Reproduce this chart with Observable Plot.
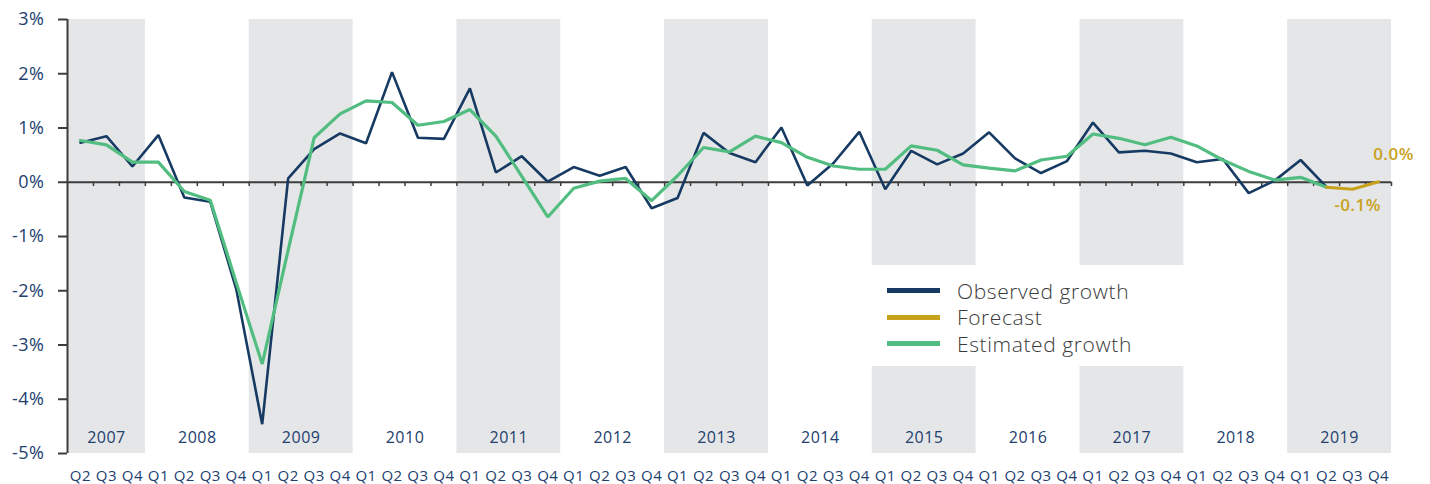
<!DOCTYPE html>
<html><head><meta charset="utf-8">
<script src="https://cdn.jsdelivr.net/npm/d3@7"></script>
<script src="https://cdn.jsdelivr.net/npm/@observablehq/plot@0.6"></script>
<style>
body{margin:0;background:#fff;}
#wrap{position:relative;width:1430px;height:484px;overflow:hidden;}
#legend{position:absolute;left:862px;top:265px;width:338px;height:101px;background:#fff;font-family:"Open Sans",sans-serif;font-weight:300;font-size:21px;letter-spacing:0.6px;color:#3a3a3a;}
.item{position:absolute;left:25px;display:flex;align-items:center;height:26px;white-space:nowrap;}
.sw{width:53px;height:5px;margin-right:17px;}
</style></head><body>
<div id="wrap"><div id="chart"></div><div id="legend"></div></div>
<script>
// ---- data ----
const years = [2007, 2008, 2009, 2010, 2011, 2012, 2013, 2014, 2015, 2016, 2017, 2018, 2019];
const quarterNames = ["Q1", "Q2", "Q3", "Q4"];
const firstQuarterIndex = 1; // series starts at 2007 Q2
const seriesNames = ["Observed growth", "Forecast", "Estimated growth"];
const seriesColors = ["#173a63", "#c8a21b", "#52bd80"];
const yTicks = [-5, -4, -3, -2, -1, 0, 1, 2, 3];
// quarterly growth, % (2007 Q2 .. 2019 Q2)
const observed = [0.73, 0.85, 0.29, 0.87, -0.28, -0.36, -1.97, -4.46, 0.07, 0.61, 0.90, 0.72, 2.03, 0.82, 0.80,
  1.73, 0.18, 0.48, 0.01, 0.28, 0.12, 0.28, -0.48, -0.29, 0.91, 0.54, 0.37, 1.01, -0.06, 0.35, 0.93,
  -0.13, 0.58, 0.33, 0.53, 0.92, 0.44, 0.17, 0.39, 1.10, 0.55, 0.58, 0.53, 0.37, 0.43, -0.20, 0.03, 0.41, -0.09];
const estimated = [0.77, 0.69, 0.37, 0.37, -0.17, -0.33, -1.85, -3.35, -1.25, 0.82, 1.26, 1.50, 1.47, 1.05, 1.12,
  1.34, 0.85, 0.11, -0.64, -0.11, 0.02, 0.07, -0.34, 0.12, 0.64, 0.56, 0.85, 0.73, 0.46, 0.30, 0.24,
  0.24, 0.67, 0.59, 0.32, 0.26, 0.21, 0.41, 0.48, 0.89, 0.81, 0.69, 0.83, 0.67, 0.41, 0.20, 0.04, 0.09, -0.09];
// forecast 2019 Q2 .. Q4
const forecast = [-0.09, -0.13, 0.01];

// ---- derived tables ----
const periods = [];
years.forEach(y => quarterNames.forEach((q, k) => {
  if (y === years[0] && k < firstQuarterIndex) return;
  periods.push({year: y, q, i: periods.length});
}));
const obsData = observed.map((v, i) => ({i, v}));
const estData = estimated.map((v, i) => ({i, v}));
const fcData = forecast.map((v, k) => ({i: periods.length - forecast.length + k, v}));
const yearSpans = years.map((y, n) => {
  const ps = periods.filter(p => p.year === y);
  return {year: y, x1: ps[0].i - 0.5, x2: ps[ps.length - 1].i + 0.5, shaded: n % 2 === 0};
});
const navyText = "#22406e";
const axisColor = "#3d3d3d";

const chart = Plot.plot({
  width: 1430, height: 484,
  marginLeft: 67, marginRight: 39, marginTop: 19, marginBottom: 31,
  style: {fontFamily: "'Open Sans', sans-serif", background: "transparent", overflow: "visible", letterSpacing: "0.5px"},
  x: {domain: [-0.5, periods.length - 0.5], axis: null},
  y: {domain: [yTicks[0], yTicks[yTicks.length - 1]], axis: null},
  marks: [
    Plot.rect(yearSpans.filter(d => d.shaded), {x1: "x1", x2: "x2", y1: yTicks[0], y2: yTicks[yTicks.length - 1], fill: "#e5e6e8"}),
    Plot.ruleY([0], {stroke: axisColor, strokeWidth: 2}),
    Plot.ruleX(periods.map(p => p.i + 0.5), {y1: 0, y2: -0.08, stroke: axisColor, strokeWidth: 1.5}),
    Plot.axisY({ticks: yTicks, tickFormat: d => d + "%", tickSize: 9, tickPadding: 14, fontSize: 18, label: null,
      stroke: axisColor, strokeWidth: 2, fill: navyText}),
    Plot.ruleX([-0.5], {y1: yTicks[0], y2: yTicks[yTicks.length - 1], stroke: axisColor, strokeWidth: 2}),
    Plot.line(obsData, {x: "i", y: "v", stroke: seriesColors[0], strokeWidth: 2.6, strokeLinejoin: "miter"}),
    Plot.line(estData, {x: "i", y: "v", stroke: seriesColors[2], strokeWidth: 3.2, strokeLinejoin: "miter"}),
    Plot.line(fcData, {x: "i", y: "v", stroke: seriesColors[1], strokeWidth: 3, strokeLinejoin: "miter"}),
    Plot.text(fcData.slice(1, 2), {x: "i", y: "v", text: d => d.v.toFixed(1) + "%", dx: 5, dy: 16,
      fill: seriesColors[1], fontSize: 17, fontWeight: 600}),
    Plot.text(fcData.slice(2), {x: "i", y: "v", text: d => d.v.toFixed(1) + "%", dx: 15, dy: -27,
      fill: seriesColors[1], fontSize: 17, fontWeight: 600}),
    Plot.text(yearSpans, {x: d => (d.x1 + d.x2) / 2, y: yTicks[0], dy: -16, text: d => String(d.year),
      fill: navyText, fontSize: 16}),
    Plot.text(periods, {x: "i", y: yTicks[0], dy: 23, text: "q", fill: navyText, fontSize: 15})
  ]
});
document.getElementById("chart").appendChild(chart);

// legend
const legend = document.getElementById("legend");
[0, 1, 2].forEach((s, r) => {
  const item = document.createElement("div");
  item.className = "item";
  item.style.top = (12.7 + r * 26.5) + "px";
  const sw = document.createElement("span");
  sw.className = "sw";
  sw.style.background = seriesColors[s];
  const t = document.createElement("span");
  t.textContent = seriesNames[s];
  item.appendChild(sw); item.appendChild(t);
  legend.appendChild(item);
});
</script>
</body></html>
